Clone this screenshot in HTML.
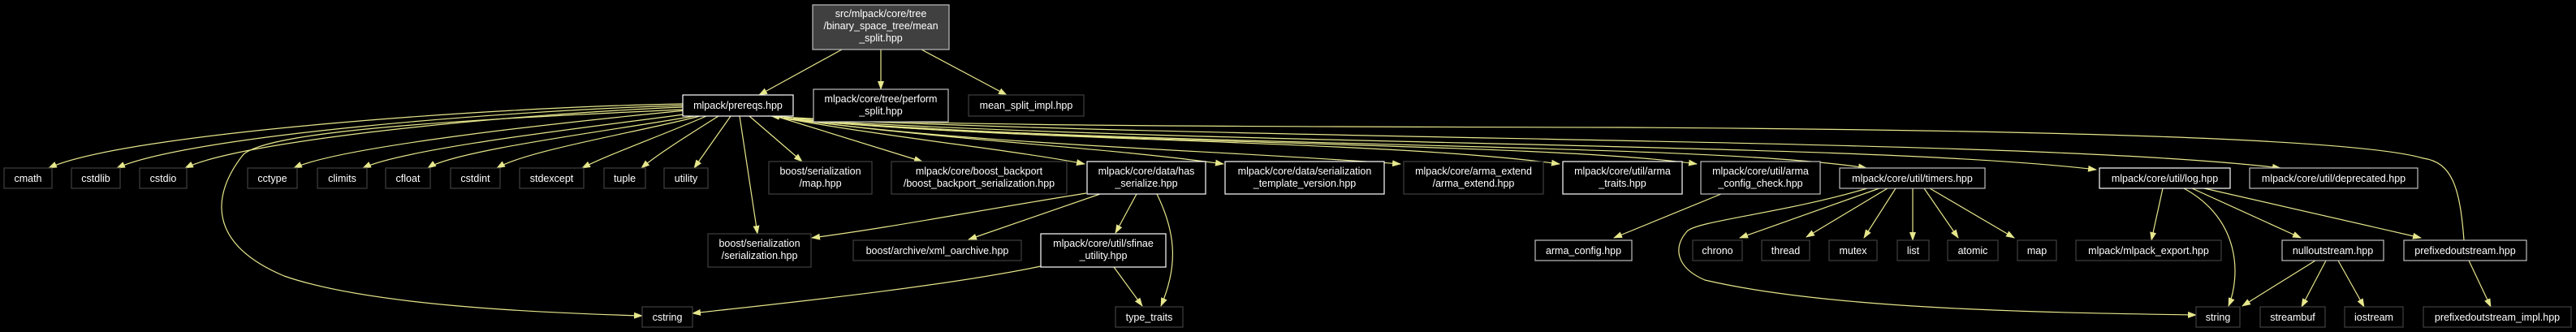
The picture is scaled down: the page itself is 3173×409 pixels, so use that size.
<!DOCTYPE html>
<html><head><meta charset="utf-8"><style>
html,body{margin:0;padding:0;background:#000;}
svg{display:block;}
text{font-family:"Liberation Sans",Arial,sans-serif;font-size:12.5px;fill:#fff;text-anchor:middle;}
.e{fill:none;stroke:#e6e68c;stroke-width:1.2;marker-end:url(#a);}
.ne{fill:none;stroke:#e6e68c;stroke-width:1.2;}
.w{fill:#000;stroke:#fff;stroke-width:1.2;}
.g{fill:#000;stroke:#404040;stroke-width:1.2;}
.l{fill:#000;stroke:#bfbfbf;stroke-width:1.2;}
</style></head><body>
<svg width="3173" height="409" viewBox="0 0 3173 409" xmlns="http://www.w3.org/2000/svg">
<defs><marker id="a" markerWidth="11" markerHeight="8" refX="10" refY="4" orient="auto" markerUnits="userSpaceOnUse"><path d="M0,0L11,4L0,8z" fill="#e6e68c"/></marker></defs>

<!-- edges -->
<path class="e" d="M1037,61 L935,117"/>
<path class="e" d="M1085,61 L1085,110"/>
<path class="e" d="M1135,61 L1240,117"/>

<path class="e" d="M841,128 C600,132 150,165 60,207"/>
<path class="e" d="M841,130 C620,136 230,168 144,207"/>
<path class="e" d="M841,132 C640,140 300,172 228,207"/>
<path class="e" d="M845,136 C700,150 420,180 362,207"/>
<path class="e" d="M850,140 C740,155 500,182 447,207"/>
<path class="e" d="M855,143 C760,160 560,185 527,207"/>
<path class="e" d="M862,143 C790,162 650,185 612,207"/>
<path class="e" d="M870,143 C820,165 750,190 717,207"/>
<path class="e" d="M885,143 C850,165 810,190 790,207"/>
<path class="e" d="M900,143 L855,207"/>
<path class="e" d="M841,135 C500,150 330,165 300,190 C260,240 255,300 350,340 C450,375 650,385 791,389"/>
<path class="e" d="M923,143 L988,199"/>
<path class="e" d="M911,143 L933,288"/>
<path class="e" d="M955,143 L1136,199"/>
<path class="e" d="M962,145 C1100,170 1250,185 1336,202"/>
<path class="e" d="M966,145 C1150,172 1350,180 1507,202"/>
<path class="e" d="M968,146 C1200,178 1500,185 1725,202"/>
<path class="e" d="M970,146 C1250,175 1700,172 1921,202"/>
<path class="e" d="M972,147 C1300,178 1900,175 2090,202"/>
<path class="e" d="M974,147 C1400,182 2100,175 2299,207"/>
<path class="e" d="M976,147 C1500,180 2300,175 2582,209"/>
<path class="e" d="M977,146 C1600,175 2500,170 2809,207"/>
<path class="e" d="M3035,296 C3030,230 3020,200 2985,195 C2900,170 2500,160 2000,157 C1500,156 1100,155 950,143"/>

<path class="e" d="M1338,238 C1200,260 1100,280 1000,293"/>
<path class="e" d="M1355,239 L1193,295"/>
<path class="e" d="M1400,239 L1374,287"/>
<path class="e" d="M1425,239 C1450,290 1450,330 1430,377"/>
<path class="e" d="M1372,329 L1407,377"/>
<path class="e" d="M1282,328 C1150,355 950,375 853,386"/>
<path class="e" d="M2120,239 L1988,293"/>

<path class="e" d="M2315,232 L2143,293"/>
<path class="e" d="M2325,232 L2225,292"/>
<path class="e" d="M2335,232 L2296,293"/>
<path class="e" d="M2356,232 L2356,296"/>
<path class="e" d="M2370,232 L2412,293"/>
<path class="e" d="M2377,232 L2481,293"/>
<path class="e" d="M2300,232 C2200,262 2090,272 2078,285 C2060,305 2065,330 2100,345 C2250,380 2500,385 2705,388"/>

<path class="e" d="M2664,232 L2650,296"/>
<path class="e" d="M2690,232 C2760,270 2760,340 2745,377"/>
<path class="e" d="M2700,232 L2834,293"/>
<path class="e" d="M2715,232 L2982,293"/>
<path class="e" d="M2852,321 L2762,377"/>
<path class="e" d="M2865,321 L2835,378"/>
<path class="e" d="M2880,321 L2912,378"/>
<path class="e" d="M3041,321 L3068,378"/>

<!-- nodes -->
<rect x="1001" y="6" width="168" height="55" fill="#404040" stroke="#bfbfbf" stroke-width="1.2"/>
<text x="1085" y="21">src/mlpack/core/tree</text>
<text x="1085" y="36">/binary_space_tree/mean</text>
<text x="1085" y="51">_split.hpp</text>

<rect class="w" x="841" y="117" width="136" height="26"/><text x="909" y="134">mlpack/prereqs.hpp</text>
<rect class="l" x="1002" y="110" width="166" height="40"/><text x="1085" y="126">mlpack/core/tree/perform</text><text x="1085" y="141">_split.hpp</text>
<rect class="g" x="1193" y="117" width="142" height="26"/><text x="1264" y="134">mean_split_impl.hpp</text>

<rect class="g" x="5" y="207" width="59" height="25"/><text x="34.5" y="224">cmath</text>
<rect class="g" x="88" y="207" width="60" height="25"/><text x="118" y="224">cstdlib</text>
<rect class="g" x="172" y="207" width="58" height="25"/><text x="201" y="224">cstdio</text>
<rect class="g" x="305" y="207" width="61" height="25"/><text x="335.5" y="224">cctype</text>
<rect class="g" x="391" y="207" width="61" height="25"/><text x="421.5" y="224">climits</text>
<rect class="g" x="475" y="207" width="55" height="25"/><text x="502.5" y="224">cfloat</text>
<rect class="g" x="555" y="207" width="61" height="25"/><text x="585.5" y="224">cstdint</text>
<rect class="g" x="640" y="207" width="79" height="25"/><text x="679.5" y="224">stdexcept</text>
<rect class="g" x="744" y="207" width="51" height="25"/><text x="769.5" y="224">tuple</text>
<rect class="g" x="818" y="207" width="54" height="25"/><text x="845" y="224">utility</text>

<rect class="g" x="947" y="199" width="127" height="40"/><text x="1010.5" y="215">boost/serialization</text><text x="1010.5" y="230">/map.hpp</text>
<rect class="g" x="1098" y="199" width="216" height="40"/><text x="1206" y="215">mlpack/core/boost_backport</text><text x="1206" y="230">/boost_backport_serialization.hpp</text>
<rect class="w" x="1339" y="199" width="146" height="40"/><text x="1412" y="215">mlpack/core/data/has</text><text x="1412" y="230">_serialize.hpp</text>
<rect class="w" x="1509" y="199" width="196" height="40"/><text x="1607" y="215">mlpack/core/data/serialization</text><text x="1607" y="230">_template_version.hpp</text>
<rect class="g" x="1729" y="199" width="172" height="40"/><text x="1815" y="215">mlpack/core/arma_extend</text><text x="1815" y="230">/arma_extend.hpp</text>
<rect class="w" x="1925" y="199" width="147" height="40"/><text x="1998.5" y="215">mlpack/core/util/arma</text><text x="1998.5" y="230">_traits.hpp</text>
<rect class="l" x="2095" y="199" width="147" height="40"/><text x="2168.5" y="215">mlpack/core/util/arma</text><text x="2168.5" y="230">_config_check.hpp</text>
<rect class="l" x="2266" y="207" width="179" height="25"/><text x="2355.5" y="224">mlpack/core/util/timers.hpp</text>
<rect class="w" x="2586" y="207" width="161" height="25"/><text x="2666.5" y="224">mlpack/core/util/log.hpp</text>
<rect class="l" x="2771" y="207" width="207" height="25"/><text x="2874.5" y="224">mlpack/core/util/deprecated.hpp</text>

<rect class="g" x="872" y="288" width="127" height="41"/><text x="935.5" y="304">boost/serialization</text><text x="935.5" y="319">/serialization.hpp</text>
<rect class="g" x="1051" y="296" width="207" height="25"/><text x="1154.5" y="313">boost/archive/xml_oarchive.hpp</text>
<rect class="w" x="1282" y="288" width="154" height="41"/><text x="1359" y="304">mlpack/core/util/sfinae</text><text x="1359" y="319">_utility.hpp</text>
<rect class="l" x="1891" y="296" width="119" height="25"/><text x="1950.5" y="313">arma_config.hpp</text>
<rect class="g" x="2085" y="296" width="61" height="25"/><text x="2115.5" y="313">chrono</text>
<rect class="g" x="2170" y="296" width="59" height="25"/><text x="2199.5" y="313">thread</text>
<rect class="g" x="2253" y="296" width="59" height="25"/><text x="2282.5" y="313">mutex</text>
<rect class="g" x="2337" y="296" width="39" height="25"/><text x="2356.5" y="313">list</text>
<rect class="g" x="2399" y="296" width="62" height="25"/><text x="2430" y="313">atomic</text>
<rect class="g" x="2485" y="296" width="48" height="25"/><text x="2509" y="313">map</text>
<rect class="g" x="2557" y="296" width="179" height="25"/><text x="2646.5" y="313">mlpack/mlpack_export.hpp</text>
<rect class="l" x="2811" y="296" width="125" height="25"/><text x="2873.5" y="313">nulloutstream.hpp</text>
<rect class="l" x="2961" y="296" width="151" height="25"/><text x="3036.5" y="313">prefixedoutstream.hpp</text>

<rect class="g" x="791" y="378" width="62" height="25"/><text x="822" y="395">cstring</text>
<rect class="g" x="1374" y="378" width="83" height="25"/><text x="1415.5" y="395">type_traits</text>
<rect class="g" x="2705" y="378" width="54" height="25"/><text x="2732" y="395">string</text>
<rect class="g" x="2784" y="378" width="80" height="25"/><text x="2824" y="395">streambuf</text>
<rect class="g" x="2888" y="378" width="72" height="25"/><text x="2924" y="395">iostream</text>
<rect class="g" x="2985" y="378" width="182" height="25"/><text x="3076" y="395">prefixedoutstream_impl.hpp</text>
</svg>
</body></html>
